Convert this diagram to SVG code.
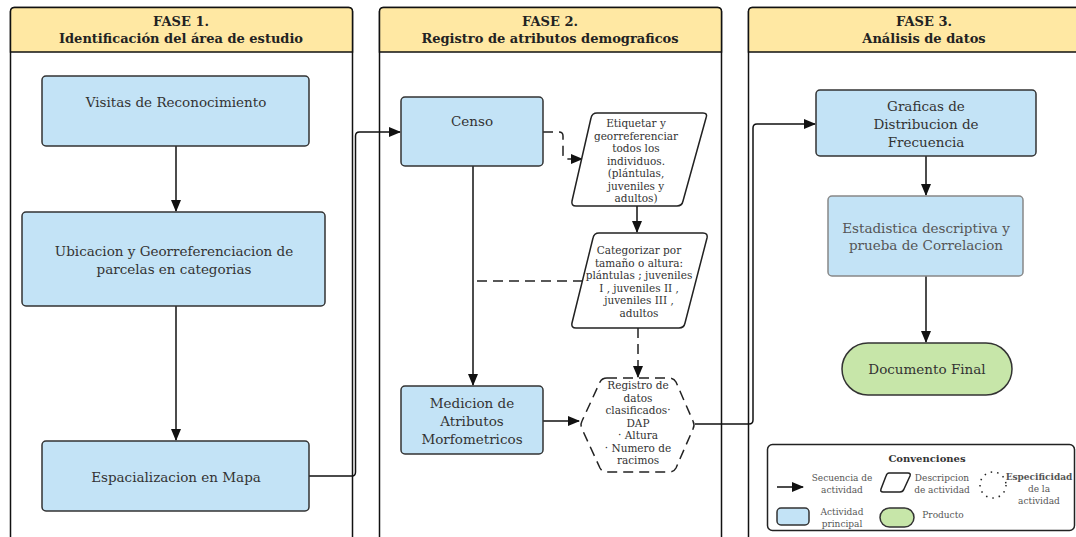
<svg xmlns="http://www.w3.org/2000/svg" width="1076" height="537" viewBox="0 0 1076 537">
<style>
.lane{fill:#fff;stroke:#111;stroke-width:1.5}
.hdr{fill:#FFE8A3;stroke:#111;stroke-width:1.5}
.ht{font-family:"DejaVu Serif","Liberation Serif",serif;font-weight:bold;font-size:13px;fill:#222;text-anchor:middle}
.act{fill:#C3E3F6;stroke:#333;stroke-width:1.5}
.act2{fill:#C3E3F6;stroke:#888;stroke-width:1.5}
.t{font-family:"DejaVu Serif","Liberation Serif",serif;font-size:13.5px;fill:#333;text-anchor:middle}
.t2{font-family:"DejaVu Serif","Liberation Serif",serif;font-size:13.5px;fill:#555;text-anchor:middle}
.s{font-family:"DejaVu Serif","Liberation Serif",serif;font-size:10.5px;fill:#333;text-anchor:middle}
.l{font-family:"DejaVu Serif","Liberation Serif",serif;font-size:9px;fill:#555;text-anchor:middle}
.desc{fill:#fff;stroke:#222;stroke-width:1.5;stroke-linejoin:round}
.prod{fill:#C7E6A9;stroke:#333;stroke-width:1.5}
.c{fill:none;stroke:#111;stroke-width:1.5}
.d{fill:none;stroke:#222;stroke-width:1.5;stroke-dasharray:10 6}
</style>
<defs>
<marker id="ah" markerUnits="userSpaceOnUse" markerWidth="12" markerHeight="10" refX="11" refY="5" orient="auto">
<path d="M0,0 L12,5 L0,10 Z" fill="#111"/>
</marker>
</defs>

<g id="lane1">
<rect class="lane" x="10.5" y="7.5" width="342" height="560" rx="4"/>
<path class="hdr" d="M10.5,52 V11.5 Q10.5,7.5 14.5,7.5 H348.5 Q352.5,7.5 352.5,11.5 V52 Z"/>
<text class="ht" x="181" y="26">FASE 1.</text>
<text class="ht" x="181" y="43">Identificación del área de estudio</text>
</g>
<g id="lane2">
<rect class="lane" x="379.5" y="7.5" width="342" height="560" rx="4"/>
<path class="hdr" d="M379.5,52 V11.5 Q379.5,7.5 383.5,7.5 H717.5 Q721.5,7.5 721.5,11.5 V52 Z"/>
<text class="ht" x="550" y="26">FASE 2.</text>
<text class="ht" x="550" y="43">Registro de atributos demograficos</text>
</g>
<g id="lane3">
<rect class="lane" x="748.5" y="7.5" width="360" height="560" rx="4"/>
<path class="hdr" d="M748.5,52 V11.5 Q748.5,7.5 752.5,7.5 H1104 Q1108,7.5 1108,11.5 V52 Z"/>
<text class="ht" x="924" y="26">FASE 3.</text>
<text class="ht" x="924" y="43">Análisis de datos</text>
</g>

<g id="connectors">
<path class="c" d="M176,146 V211" marker-end="url(#ah)"/>
<path class="c" d="M176,306 V440" marker-end="url(#ah)"/>
<path class="c" d="M309,476 H352 Q355.5,476 355.5,472 V136 Q355.5,132 359.5,132 H400" marker-end="url(#ah)"/>
<path class="d" d="M543,132 H559 Q563,132 563,136 V155 Q563,159 567,159 H582" marker-end="url(#ah)"/>
<path class="c" d="M637,206 V232" marker-end="url(#ah)"/>
<path class="c" d="M473,166 V385" marker-end="url(#ah)"/>
<path class="d" d="M583,281 H473"/>
<path class="d" d="M638,328 V377" marker-end="url(#ah)"/>
<path class="c" d="M532,421 H579" marker-end="url(#ah)"/>
<path class="c" d="M695,424 H749 Q753,424 753,420 V128 Q753,124 757,124 H815" marker-end="url(#ah)"/>
<path class="c" d="M926,156 V195" marker-end="url(#ah)"/>
<path class="c" d="M926,276 V342" marker-end="url(#ah)"/>
</g>

<g id="n-visitas">
<rect class="act" x="42" y="76" width="267" height="70" rx="4"/>
<text class="t" x="176" y="107">Visitas de Reconocimiento</text>
</g>
<g id="n-ubicacion">
<rect class="act" x="22" y="212" width="303" height="94" rx="4"/>
<text class="t" x="174" y="256">Ubicacion y Georreferenciacion de</text>
<text class="t" x="174" y="274">parcelas en categorias</text>
</g>
<g id="n-espacializacion">
<rect class="act" x="42" y="441" width="267" height="70" rx="4"/>
<text class="t" x="176" y="482">Espacializacion en Mapa</text>
</g>
<g id="n-censo">
<rect class="act" x="401" y="97" width="142" height="69" rx="4"/>
<text class="t" x="472" y="126">Censo</text>
</g>
<g id="n-etiquetar">
<path class="desc" d="M597,113 H703 Q708,113 706,118 L683,201 Q682,206 677,206 H576 Q571,206 572,201 L591,118 Q592,113 597,113 Z"/>
<text class="s" x="636" y="127">Etiquetar y</text>
<text class="s" x="636" y="139.5">georreferenciar</text>
<text class="s" x="636" y="152">todos los</text>
<text class="s" x="636" y="164.5">individuos.</text>
<text class="s" x="636" y="177">(plántulas,</text>
<text class="s" x="636" y="189.5">juveniles y</text>
<text class="s" x="636" y="202">adultos)</text>
</g>
<g id="n-categorizar">
<path class="desc" d="M599,233 H703 Q708,233 707,238 L685,323 Q684,328 679,328 H576 Q571,328 572,323 L593,238 Q594,233 599,233 Z"/>
<text class="s" x="639" y="254">Categorizar por</text>
<text class="s" x="639" y="266.5">tamaño o altura:</text>
<text class="s" x="639" y="279">plántulas ; juveniles</text>
<text class="s" x="639" y="291.5">I , juveniles II ,</text>
<text class="s" x="639" y="304">juveniles III ,</text>
<text class="s" x="639" y="316.5">adultos</text>
</g>
<g id="n-medicion">
<rect class="act" x="401" y="386" width="142" height="68" rx="4"/>
<text class="t" x="472" y="408">Medicion de</text>
<text class="t" x="472" y="426">Atributos</text>
<text class="t" x="472" y="444">Morfometricos</text>
</g>
<g id="n-registro">
<path class="d" d="M607,378 H669 Q674,378 676,382 L693,421 Q695,425 693,429 L676,468 Q674,472 669,472 H607 Q602,472 600,468 L582,429 Q580,425 582,421 L600,382 Q602,378 607,378 Z"/>
<text class="s" x="638" y="389">Registro de</text>
<text class="s" x="638" y="401.5">datos</text>
<text class="s" x="638" y="414">clasificados·</text>
<text class="s" x="638" y="426.5">DAP</text>
<text class="s" x="638" y="439">· Altura</text>
<text class="s" x="638" y="451.5">· Numero de</text>
<text class="s" x="638" y="464">racimos</text>
</g>
<g id="n-graficas">
<rect class="act" x="816" y="90" width="220" height="66" rx="4"/>
<text class="t" x="926" y="111">Graficas de</text>
<text class="t" x="926" y="129">Distribucion de</text>
<text class="t" x="926" y="147">Frecuencia</text>
</g>
<g id="n-estadistica">
<rect class="act2" x="828" y="196" width="195" height="80" rx="4"/>
<text class="t2" x="926" y="233">Estadistica descriptiva y</text>
<text class="t2" x="926" y="250">prueba de Correlacion</text>
</g>
<g id="n-documento">
<rect class="prod" x="842" y="343" width="170" height="52" rx="26"/>
<text class="t" x="927" y="374">Documento Final</text>
</g>

<g id="legend">
<rect x="767.5" y="444.5" width="307" height="86" rx="5" fill="#fff" stroke="#222" stroke-width="1.5"/>
<text x="927" y="462" font-family="DejaVu Serif, Liberation Serif, serif" font-size="10px" font-weight="bold" fill="#333" text-anchor="middle">Convenciones</text>
<path class="c" d="M777,487 H803" marker-end="url(#ah)"/>
<text class="l" x="842" y="481">Secuencia de</text>
<text class="l" x="842" y="493">actividad</text>
<path class="desc" d="M889,473 H908 Q911,473 910,476 L904,489 Q903,492 900,492 H883 Q880,492 881,489 L886,476 Q887,473 889,473 Z"/>
<text class="l" x="942" y="481">Descripcion</text>
<text class="l" x="942" y="493">de actividad</text>
<circle cx="993" cy="485" r="13" fill="none" stroke="#222" stroke-width="1.5" stroke-dasharray="1.5 5"/>
<text class="l" x="1039" y="480" font-weight="bold" font-size="8.5px">Especificidad</text>
<text class="l" x="1039" y="492">de la</text>
<text class="l" x="1039" y="504">actividad</text>
<rect class="act" x="777" y="508" width="32" height="17" rx="4"/>
<text class="l" x="842" y="515">Actividad</text>
<text class="l" x="842" y="527">principal</text>
<rect class="prod" x="880" y="508" width="34" height="19" rx="9.5"/>
<text class="l" x="943" y="518">Producto</text>
</g>
</svg>
